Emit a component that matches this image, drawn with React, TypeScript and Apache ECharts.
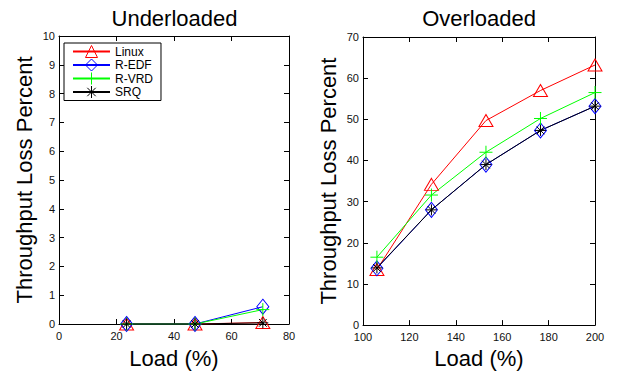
import React, { useEffect, useRef } from "react";
import * as echarts from "echarts";

const seriesNames = ["Linux", "R-EDF", "R-VRD", "SRQ"];
const seriesColors = ["#ff0000", "#0000ff", "#00ff00", "#000000"];

const underLoad = [23.5, 47.3, 70.9];
const underLinux = [0, 0, 0.05];
const underEdf = [0, 0, 0.6];
const underVrd = [0, 0, 0.5];
const underSrq = [0, 0, 0.04];

const overLoad = [106, 129.5, 153, 176.5, 200];
const overLinux = [13.5, 34.2, 49.7, 57, 63.2];
const overEdf = [13.8, 28, 39, 47.3, 53.2];
const overVrd = [16.5, 31.6, 42, 50.2, 56.5];
const overSrq = [13.9, 28, 39, 47.3, 53.2];

const titles = ["Underloaded", "Overloaded"];
const xName = "Load (%)";
const yName = "Throughput Loss Percent";

const FONT = "'Liberation Sans', Arial, Helvetica, sans-serif";

const symbols = [
  { symbol: "path://M5,0L10,10L0,10Z", size: [14, 12] },
  { symbol: "path://M5,0L10,10L5,20L0,10Z", size: [12, 15] },
  { symbol: "path://M0,5L10,5M5,0L5,10", size: [13, 13] },
  { symbol: "path://M0,5L10,5M5,0L5,10M1.5,1.5L8.5,8.5M1.5,8.5L8.5,1.5", size: [11, 11] },
];

function makeSeries(xs: number[], ys: number[][], axisIndex: number) {
  return ys.map((vals, i) => ({
    type: "line",
    name: seriesNames[i],
    xAxisIndex: axisIndex,
    yAxisIndex: axisIndex,
    data: xs.map((x, j) => [x, vals[j]]),
    symbol: symbols[i].symbol,
    symbolSize: symbols[i].size,
    showAllSymbol: true,
    clip: false,
    lineStyle: { color: seriesColors[i], width: 1 },
    itemStyle: { color: "transparent", borderColor: seriesColors[i], borderWidth: 1 },
    emphasis: { disabled: true },
  }));
}

function axisPair(
  kind: "x" | "y",
  gridIndex: number,
  min: number,
  max: number,
  interval: number,
  name: string,
  nameGap: number
) {
  const main: any = {
    type: "value",
    gridIndex,
    min,
    max,
    interval,
    position: kind === "x" ? "bottom" : "left",
    name,
    nameLocation: "middle",
    nameGap,
    nameTextStyle: { fontFamily: FONT, fontSize: 22, color: "#000" },
    axisLine: { show: true, onZero: false, lineStyle: { color: "#000", width: 1 } },
    axisTick: { show: true, inside: true, length: 5, lineStyle: { color: "#000", width: 1 } },
    axisLabel: {
      show: true,
      fontFamily: FONT,
      fontSize: 11,
      color: "#111",
      margin: kind === "x" ? 6 : 4,
      showMinLabel: true,
      showMaxLabel: true,
    },
    splitLine: { show: false },
  };
  const other: any = {
    type: "value",
    gridIndex,
    min,
    max,
    interval,
    position: kind === "x" ? "top" : "right",
    axisLine: { show: true, onZero: false, lineStyle: { color: "#000", width: 1 } },
    axisTick: { show: true, inside: true, length: 5, lineStyle: { color: "#000", width: 1 } },
    axisLabel: { show: false },
    splitLine: { show: false },
  };
  return [main, other];
}

export default function App() {
  const ref = useRef<HTMLDivElement>(null);
  useEffect(() => {
    if (!ref.current) return;
    const chart = echarts.init(ref.current, undefined, { renderer: "svg" });
    const option: any = {
      animation: false,
      backgroundColor: "#ffffff",
      title: [
        {
          text: titles[0],
          left: 174.5,
          top: 7,
          textAlign: "center",
          padding: 0,
          textStyle: { fontFamily: FONT, fontSize: 22, fontWeight: "normal", color: "#000" },
        },
        {
          text: titles[1],
          left: 479,
          top: 7,
          textAlign: "center",
          padding: 0,
          textStyle: { fontFamily: FONT, fontSize: 22, fontWeight: "normal", color: "#000" },
        },
      ],
      legend: {
        data: seriesNames,
        orient: "vertical",
        left: 64,
        top: 43,
        padding: [2, 8, 2, 8],
        itemWidth: 37,
        itemHeight: 15,
        itemGap: 0.5,
        backgroundColor: "#fff",
        borderColor: "#000",
        borderWidth: 1,
        borderRadius: 0,
        itemStyle: { borderWidth: 1 },
        textStyle: { fontFamily: FONT, fontSize: 12, color: "#000" },
        selectedMode: false,
      },
      grid: [
        { left: 59, top: 36, width: 230, height: 293, containLabel: false },
        { left: 363, top: 37, width: 232, height: 295, containLabel: false },
      ],
      xAxis: [
        ...axisPair("x", 0, 0, 80, 20, xName, 23),
        ...axisPair("x", 1, 100, 200, 20, xName, 20),
      ],
      yAxis: [
        ...axisPair("y", 0, 0, 10, 1, yName, 24),
        ...axisPair("y", 1, 0, 70, 10, yName, 24),
      ],
      series: [
        ...makeSeries(underLoad, [underLinux, underEdf, underVrd, underSrq], 0),
        ...makeSeries(overLoad, [overLinux, overEdf, overVrd, overSrq], 2),
      ],
    };
    chart.setOption(option);
    return () => chart.dispose();
  }, []);
  return (
    <div
      ref={ref}
      style={{ position: "fixed", left: 0, top: 0, width: 626, height: 374, background: "#fff" }}
    />
  );
}
